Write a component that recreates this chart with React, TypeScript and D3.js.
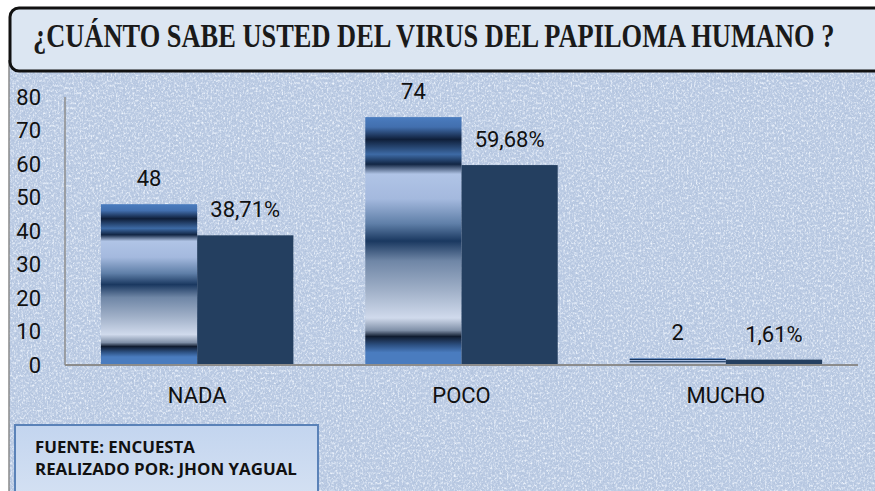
import React, { useLayoutEffect, useRef, useState } from "react";
import * as d3 from "d3";

const categories = ["NADA", "POCO", "MUCHO"];
const counts = [48, 74, 2];
const percents = [38.71, 59.68, 1.61];
const percentLabels = ["38,71%", "59,68%", "1,61%"];
const yTicks = [0, 10, 20, 30, 40, 50, 60, 70, 80];
const titleText = "¿CUÁNTO SABE USTED DEL VIRUS DEL PAPILOMA HUMANO ?";
const footerLines = ["FUENTE: ENCUESTA", "REALIZADO POR: JHON YAGUAL"];

const W = 875;
const H = 491;
const plotLeft = 65;
const plotRight = 858;
const plotTop = 97;
const plotBottom = 365;

const barStops: [number, string][] = [
  [0, "#4a7cbf"],
  [0.04, "#426fae"],
  [0.09, "#0f1f3a"],
  [0.15, "#3d6aa5"],
  [0.19, "#122644"],
  [0.23, "#b0c4e6"],
  [0.33, "#a4b9de"],
  [0.43, "#5f7fa8"],
  [0.5, "#1a3860"],
  [0.58, "#6f86a6"],
  [0.7, "#a0b0c8"],
  [0.81, "#d0daec"],
  [0.86, "#8090a8"],
  [0.885, "#101c30"],
  [0.92, "#2d5183"],
  [0.95, "#4a7cbf"],
  [1, "#4a7cbf"],
];

function FitText(props: {
  x: number;
  y: number;
  width: number;
  text: string;
  fontFamily: string;
  fontSize: number;
  fontWeight?: string;
  fill: string;
}) {
  const ref = useRef<SVGTextElement>(null);
  const [sx, setSx] = useState(1);
  useLayoutEffect(() => {
    if (ref.current) {
      const len = ref.current.getComputedTextLength();
      if (len > 0) setSx(props.width / len);
    }
  }, [props.text, props.width]);
  return (
    <text
      ref={ref}
      transform={`translate(${props.x},${props.y}) scale(${sx},1)`}
      fontFamily={props.fontFamily}
      fontSize={props.fontSize}
      fontWeight={props.fontWeight}
      fill={props.fill}
    >
      {props.text}
    </text>
  );
}

export default function App() {
  const x = d3
    .scaleBand<string>()
    .domain(categories)
    .range([plotLeft, plotRight])
    .paddingInner(0.272)
    .paddingOuter(0.136);
  const sub = d3
    .scaleBand<string>()
    .domain(["count", "pct"])
    .range([0, x.bandwidth()]);
  const y = d3.scaleLinear().domain([0, 80]).range([plotBottom, plotTop]);

  const numFont = "Roboto, 'Liberation Sans', sans-serif";

  return (
    <svg
      width={W}
      height={H}
      style={{ position: "absolute", left: 0, top: 0 }}
      xmlns="http://www.w3.org/2000/svg"
    >
      <defs>
        <linearGradient id="barGrad" x1="0" y1="0" x2="0" y2="1">
          {barStops.map(([o, c], i) => (
            <stop key={i} offset={o} stopColor={c} />
          ))}
        </linearGradient>
        <linearGradient id="footGrad" x1="0" y1="0" x2="0" y2="1">
          <stop offset="0" stopColor="#c3d5ef" />
          <stop offset="1" stopColor="#d6e2f3" />
        </linearGradient>
        <filter id="darkNoise" x="0" y="0" width="100%" height="100%">
          <feTurbulence type="fractalNoise" baseFrequency="0.38 0.55" numOctaves={3} seed={3} result="n" />
          <feColorMatrix
            in="n"
            type="matrix"
            values="0 0 0 0 0.42  0 0 0 0 0.52  0 0 0 0 0.70  2.4 0 0 0 -1.15"
          />
        </filter>
        <filter id="lightNoise" x="0" y="0" width="100%" height="100%">
          <feTurbulence type="fractalNoise" baseFrequency="0.55 0.4" numOctaves={3} seed={11} result="n" />
          <feColorMatrix
            in="n"
            type="matrix"
            values="0 0 0 0 0.86  0 0 0 0 0.91  0 0 0 0 0.98  2.4 0 0 0 -1.1"
          />
        </filter>
      </defs>

      <rect x={0} y={0} width={W} height={H} fill="#ffffff" />
      {/* textured chart background */}
      <rect x={9} y={60} width={W - 9} height={H - 60} fill="#bacae3" />
      <rect x={9} y={60} width={W - 9} height={H - 60} fill="#000" filter="url(#darkNoise)" />
      <rect x={9} y={60} width={W - 9} height={H - 60} fill="#fff" filter="url(#lightNoise)" />
      <line x1={9} y1={60} x2={9} y2={H} stroke="#8a8a8a" strokeWidth={1.5} />

      {/* title box */}
      <rect x={10} y={8} width={W + 20} height={63} rx={9} ry={9} fill="#dce6f2" stroke="#111" strokeWidth={3} />
      <FitText
        x={33}
        y={47}
        width={802}
        text={titleText}
        fontFamily="'Liberation Serif', 'Times New Roman', serif"
        fontWeight="bold"
        fontSize={33}
        fill="#1a1a1a"
      />

      {/* y tick labels */}
      {yTicks.map((t) => (
        <text
          key={t}
          x={41}
          y={y(t)}
          dy="0.36em"
          textAnchor="end"
          fontFamily={numFont}
          fontSize={22}
          fill="#111"
        >
          {t}
        </text>
      ))}

      {/* bars */}
      {categories.map((c, i) => {
        const x0 = x(c)!;
        const bw = sub.bandwidth();
        const xc = x0 + sub("count")!;
        const xp = x0 + sub("pct")!;
        return (
          <g key={c}>
            <rect
              x={xc}
              y={y(counts[i])}
              width={bw}
              height={plotBottom - y(counts[i])}
              fill="url(#barGrad)"
            />
            <rect
              x={xp}
              y={y(percents[i])}
              width={bw}
              height={plotBottom - y(percents[i])}
              fill="#243f60"
            />
            <text
              x={xc + bw / 2}
              y={y(counts[i]) - 18}
              textAnchor="middle"
              fontFamily={numFont}
              fontSize={22}
              fill="#111"
            >
              {counts[i]}
            </text>
            <text
              x={xp + bw / 2}
              y={y(percents[i]) - 18}
              textAnchor="middle"
              fontFamily={numFont}
              fontSize={22}
              fill="#111"
            >
              {percentLabels[i]}
            </text>
            <text
              x={x0 + x.bandwidth() / 2}
              y={403}
              textAnchor="middle"
              fontFamily={numFont}
              fontSize={22}
              fill="#111"
            >
              {c}
            </text>
          </g>
        );
      })}

      {/* axes */}
      <line x1={plotLeft} y1={plotTop} x2={plotLeft} y2={plotBottom} stroke="#8c8c8c" strokeWidth={1.5} />
      <line x1={plotLeft} y1={plotBottom} x2={plotRight} y2={plotBottom} stroke="#8c8c8c" strokeWidth={2} />

      {/* footer box */}
      <rect x={15} y={425} width={303} height={80} fill="url(#footGrad)" stroke="#5a82b8" strokeWidth={2} />
      {footerLines.map((l, i) => (
        <FitText
          key={i}
          x={35}
          y={453 + i * 21.5}
          width={i === 0 ? 160 : 262}
          text={l}
          fontFamily="'Open Sans', 'Liberation Sans', sans-serif"
          fontWeight="bold"
          fontSize={16.5}
          fill="#111"
        />
      ))}
    </svg>
  );
}
